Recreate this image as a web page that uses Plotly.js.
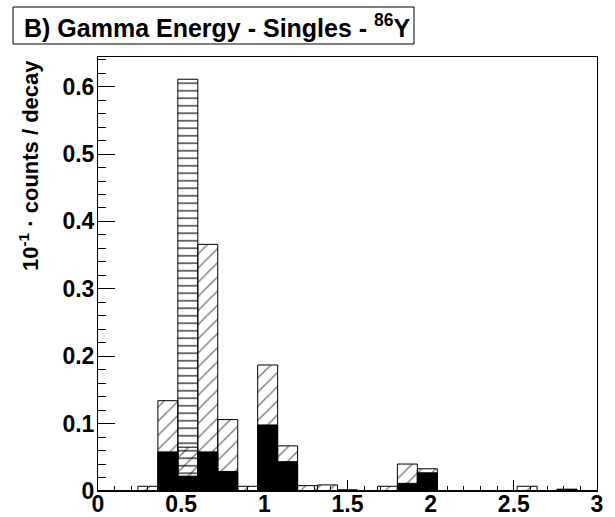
<!DOCTYPE html>
<html>
<head>
<meta charset="utf-8">
<script src="https://cdn.plot.ly/plotly-3.0.1.min.js"></script>
<style>html,body{margin:0;padding:0;background:#fff;}</style>
</head>
<body>
<div id="chart" style="width:615px;height:517px;"></div>
<script>
// Bin centres (bin width 0.12)
const binCenters = [0.06, 0.18, 0.30, 0.42, 0.54, 0.66, 0.78, 0.90, 1.02, 1.14,
                    1.26, 1.38, 1.50, 1.62, 1.74, 1.86, 1.98, 2.10, 2.22, 2.34,
                    2.46, 2.58, 2.70, 2.82, 2.94];
const binWidth = 0.12;
// Diagonally hatched histogram
const diagHatched = [0, 0, 0.007, 0.134, 0.065, 0.366, 0.106, 0.007, 0.187, 0.067,
                     0.008, 0.009, 0.0015, 0, 0.007, 0.040, 0.033, 0, 0, 0,
                     0, 0.007, 0, 0.0025, 0];
// Horizontally hatched histogram
const horizHatched = [0, 0, 0, 0, 0.611, 0, 0, 0, 0, 0,
                      0, 0, 0, 0, 0, 0, 0, 0, 0, 0,
                      0, 0, 0, 0, 0];
// Black filled histogram
const blackFilled = [0, 0, 0, 0.058, 0.022, 0.058, 0.029, 0, 0.098, 0.0435,
                     0, 0, 0.0015, 0, 0, 0.0114, 0.027, 0, 0, 0,
                     0, 0, 0, 0.0025, 0];

const titleText = "B) Gamma Energy - Singles - <sup>86</sup>Y";
const yTitleText = "10<sup>-1</sup> · counts / decay";

const FONT = "Liberation Sans, Arial, Helvetica, sans-serif";
const W = 615, H = 517;
const M = {l: 98, r: 18, t: 57, b: 26};
const pw = W - M.l - M.r, ph = H - M.t - M.b;
const px = v => (v - M.l) / pw;
const py = v => (H - M.b - v) / ph;

const traces = [
  {
    type: 'bar', x: binCenters, y: horizHatched, width: binWidth,
    marker: {color: 'white', line: {color: 'black', width: 1},
             pattern: {shape: '-', fgcolor: 'black', bgcolor: 'white', size: 7.5, solidity: 0.15}},
    showlegend: false, hoverinfo: 'skip'
  },
  {
    type: 'bar', x: binCenters, y: diagHatched, width: binWidth,
    marker: {color: 'rgba(255,255,255,0)', line: {color: 'black', width: 1},
             pattern: {shape: '/', fgcolor: 'black', bgcolor: 'rgba(255,255,255,0)', size: 10, solidity: 0.15, fillmode: 'overlay'}},
    showlegend: false, hoverinfo: 'skip'
  },
  {
    type: 'bar', x: binCenters, y: blackFilled, width: binWidth,
    marker: {color: 'black', line: {color: 'black', width: 1}},
    showlegend: false, hoverinfo: 'skip'
  }
];

const layout = {
  width: W, height: H,
  margin: M,
  paper_bgcolor: 'white', plot_bgcolor: 'white',
  barmode: 'overlay', bargap: 0,
  showlegend: false,
  xaxis: {
    range: [0, 3], tick0: 0, dtick: 0.5,
    ticks: 'inside', ticklen: 11, tickwidth: 1, tickcolor: 'black',
    ticklabelstandoff: -8,
    showline: true, linecolor: 'black', linewidth: 1, mirror: true,
    showgrid: false, zeroline: false,
    tickfont: {family: FONT, size: 23, color: 'black', weight: 700},
    minor: {dtick: 0.1, ticks: 'inside', ticklen: 5, tickcolor: 'black', showgrid: false}
  },
  yaxis: {
    range: [0, 0.644], tick0: 0, dtick: 0.1,
    ticks: 'inside', ticklen: 17, tickwidth: 1, tickcolor: 'black',
    ticklabelstandoff: -2,
    showline: true, linecolor: 'black', linewidth: 1, mirror: true,
    showgrid: false, zeroline: false,
    tickfont: {family: FONT, size: 23, color: 'black', weight: 700},
    minor: {dtick: 0.02, ticks: 'inside', ticklen: 8, tickcolor: 'black', showgrid: false}
  },
  shapes: [
    {type: 'rect', xref: 'paper', yref: 'paper',
     x0: px(13), x1: px(414), y0: py(44), y1: py(7),
     line: {color: 'black', width: 1}, fillcolor: 'white'}
  ],
  annotations: [
    {xref: 'paper', yref: 'paper', x: px(22), y: py(26), xanchor: 'left', yanchor: 'middle',
     text: titleText, showarrow: false,
     font: {family: FONT, size: 25, color: 'black', weight: 700}},
    {xref: 'paper', yref: 'paper', x: px(29), y: py(166), xanchor: 'center', yanchor: 'middle',
     text: yTitleText, textangle: -90, showarrow: false,
     font: {family: FONT, size: 22, color: 'black', weight: 700}}
  ]
};

Plotly.newPlot('chart', traces, layout, {displayModeBar: false, staticPlot: true});
</script>
</body>
</html>
